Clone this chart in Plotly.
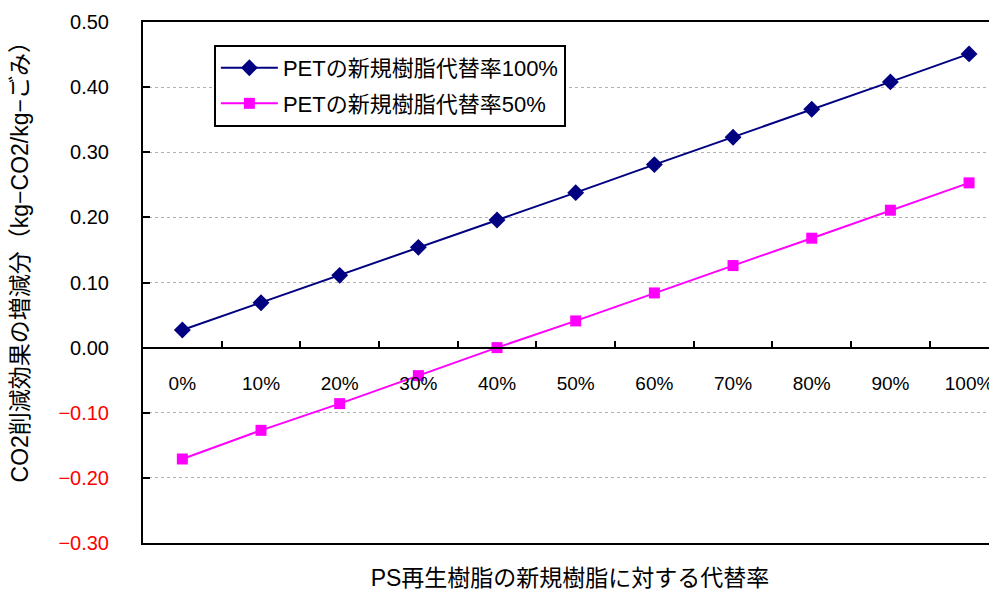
import plotly.graph_objects as go

categories = ["0%", "10%", "20%", "30%", "40%", "50%", "60%", "70%", "80%", "90%", "100%"]
series_pet100 = [0.027, 0.069, 0.111, 0.154, 0.196, 0.238, 0.281, 0.323, 0.366, 0.408, 0.451]
series_pet50 = [-0.171, -0.127, -0.086, -0.043, 0.000, 0.041, 0.084, 0.126, 0.168, 0.211, 0.253]
name_pet100 = "PETの新規樹脂代替率100%"
name_pet50 = "PETの新規樹脂代替率50%"
y_ticks = [-0.3, -0.2, -0.1, 0.0, 0.1, 0.2, 0.3, 0.4, 0.5]
x_title = "PS再生樹脂の新規樹脂に対する代替率"
y_title = "CO2削減効果の増減分（kg−CO2/kg−ごみ）"

FONT = "Liberation Sans, Arial, Noto Sans CJK JP, sans-serif"
idx = list(range(len(categories)))
n = len(categories)

def fmt(v):
    s = f"{abs(v):.2f}"
    if v < 0:
        return f'<span style="color:#FF0000">−{s}</span>'
    return s

fig = go.Figure()
fig.add_trace(go.Scatter(
    x=idx, y=series_pet100, name=name_pet100, mode="lines+markers",
    line=dict(color="#000080", width=2),
    marker=dict(symbol="diamond", size=13, color="#000080"),
    legendgroup="a",
))
fig.add_trace(go.Scatter(
    x=idx, y=series_pet50, name=name_pet50, mode="lines+markers",
    line=dict(color="#FF00FF", width=2),
    marker=dict(symbol="square", size=11, color="#FF00FF"),
    legendgroup="b",
))

xr = [-0.5, n - 1 + 0.355]
fig.update_layout(
    width=989, height=583,
    margin=dict(l=135, r=0, t=14, b=48),
    paper_bgcolor="white", plot_bgcolor="white",
    font=dict(family=FONT, size=20, color="black"),
    showlegend=True,
    legend=dict(
        x=0.083, y=0.956, xanchor="left", yanchor="top",
        bgcolor="white", bordercolor="black", borderwidth=2,
        font=dict(size=22), tracegroupgap=4, itemwidth=57,
        entrywidth=385, entrywidthmode="pixels",
    ),
    xaxis=dict(
        range=xr, showline=True, mirror=True, linecolor="black", linewidth=2,
        showticklabels=False, ticks="", showgrid=False, zeroline=False,
        title=dict(text=x_title, font=dict(size=23), standoff=26),
    ),
    xaxis2=dict(
        overlaying="x", anchor="free", position=0.375, side="top",
        range=xr, showline=True, linecolor="black", linewidth=2,
        ticks="outside", ticklen=6, tickwidth=1.5, tickcolor="black",
        tickvals=[i + 0.5 for i in idx[:-1]], showticklabels=False,
        showgrid=False, zeroline=False,
    ),
    xaxis3=dict(
        overlaying="x", anchor="free", position=0.332, side="bottom",
        range=xr, showline=False, ticks="",
        tickvals=idx, ticktext=categories, showgrid=False, zeroline=False,
        tickfont=dict(size=19),
    ),
    yaxis=dict(
        range=[-0.3, 0.5], tickvals=y_ticks, ticktext=[fmt(v) for v in y_ticks],
        showline=True, linecolor="black", linewidth=2,
        ticks="inside", ticklen=7, tickwidth=1.5, tickcolor="black",
        showgrid=True, gridcolor="#B0B0B0", griddash="dot", gridwidth=1,
        zeroline=False, ticklabelstandoff=28,
        tickfont=dict(size=20),
    ),
    annotations=[dict(
        text=y_title, textangle=-90, xref="paper", yref="paper",
        x=-0.144, y=0.55, xanchor="center", yanchor="middle",
        showarrow=False, font=dict(size=23),
    )],
)
# invisible traces to register extra axes
fig.add_trace(go.Scatter(x=[], y=[], xaxis="x2", showlegend=False))
fig.add_trace(go.Scatter(x=[], y=[], xaxis="x3", showlegend=False))

fig.write_html("out.html")
